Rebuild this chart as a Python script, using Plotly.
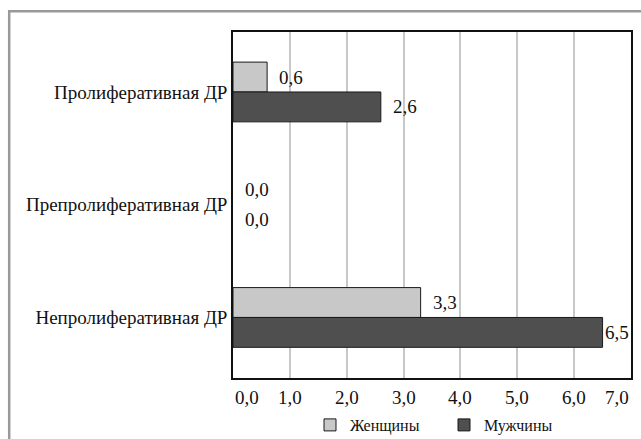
import plotly.graph_objects as go

# Диабетическая ретинопатия по полу, %
categories = ["Пролиферативная ДР", "Препролиферативная ДР", "Непролиферативная ДР"]
women = [0.6, 0.0, 3.3]
men = [2.6, 0.0, 6.5]
series_names = ["Женщины", "Мужчины"]
x_ticks = [0, 1, 2, 3, 4, 5, 6, 7]

W, H = 641, 439
# plot-area edges in page pixels
P_L, P_R, P_T, P_B = 233, 631, 32, 378
X_MAX = 7.0
Y_RANGE = [2.537, -0.532]   # category axis, top to bottom
BARGAP = 0.47

FONT = "serif"
WOMEN_FILL = "#c8c8c8"
MEN_FILL = "#4f4f4f"


def fmt(v):
    return f"{v:.1f}".replace(".", ",")


fig = go.Figure()
for name, vals, fill in [(series_names[0], women, WOMEN_FILL), (series_names[1], men, MEN_FILL)]:
    fig.add_trace(go.Bar(
        name=name, y=categories, x=vals, orientation="h",
        marker=dict(color=fill,
                    line=dict(color="#1a1a1a", width=[1 if v > 0 else 0 for v in vals])),
    ))

# value labels to the right of each bar; ones near the end of the axis are kept inside the frame
bar_w = (1 - BARGAP) / 2
annotations = []
for k, vals in enumerate([women, men]):
    offset = (k - 0.5) * bar_w
    for i, v in enumerate(vals):
        pulled_in = v > X_MAX - 0.6
        annotations.append(dict(
            x=X_MAX if pulled_in else v, y=i + offset, xref="x", yref="y",
            text=fmt(v), showarrow=False,
            xanchor="right" if pulled_in else "left",
            xshift=0 if pulled_in else 10,
            font=dict(family=FONT, size=19, color="#111"),
        ))

# x tick labels under the axis; the two end labels sit inside the axis span
x_axis_bottom = 1 - P_B / H
for j, t in enumerate(x_ticks):
    anchor = "left" if j == 0 else ("right" if j == len(x_ticks) - 1 else "center")
    annotations.append(dict(
        x=t, y=x_axis_bottom, xref="x", yref="paper", yanchor="top", yshift=-7,
        text=fmt(t), showarrow=False, xanchor=anchor,
        font=dict(family=FONT, size=19, color="#111"),
    ))

# outer grey frame: top and left edges, running off the page on the right and bottom
frame = dict(color="#9a9a9a", width=2.5)
shapes = [
    dict(type="line", xref="paper", yref="paper", layer="below",
         x0=8 / W, x1=1, y0=1 - 11.2 / H, y1=1 - 11.2 / H, line=frame),
    dict(type="line", xref="paper", yref="paper", layer="below",
         x0=9.2 / W, x1=9.2 / W, y0=1 - 10 / H, y1=0, line=frame),
]

fig.update_layout(
    width=W, height=H,
    margin=dict(l=0, r=0, t=0, b=0, pad=0, autoexpand=False),
    paper_bgcolor="white", plot_bgcolor="white",
    barmode="group", bargap=BARGAP, bargroupgap=0,
    font=dict(family=FONT, size=19, color="#111"),
    xaxis=dict(
        domain=[P_L / W, P_R / W],
        range=[0, X_MAX], tickvals=x_ticks, showticklabels=False,
        showgrid=True, gridcolor="#c8c8c8", gridwidth=1.5,
        showline=True, linecolor="#111", linewidth=1.5, mirror=True,
        zeroline=False, ticks="",
        fixedrange=True, automargin=False,
    ),
    yaxis=dict(
        domain=[1 - P_B / H, 1 - P_T / H],
        range=Y_RANGE, showgrid=False,
        showline=True, linecolor="#111", linewidth=1.5, mirror=True,
        ticks="", tickfont=dict(family=FONT, size=19, color="#111"),
        fixedrange=True, automargin=False,
    ),
    legend=dict(
        orientation="h", x=310 / W, xanchor="left", y=1 - 425 / H, yanchor="middle",
        font=dict(family=FONT, size=16, color="#111"),
        itemwidth=30, entrywidth=89, entrywidthmode="pixels",
        bgcolor="rgba(0,0,0,0)",
    ),
    annotations=annotations,
    shapes=shapes,
    showlegend=True,
)

fig.write_html("out.html")
